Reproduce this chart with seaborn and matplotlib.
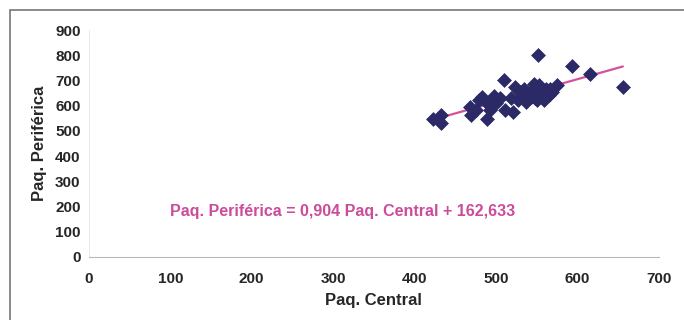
import matplotlib
matplotlib.use("Agg")
import matplotlib.pyplot as plt
import seaborn as sns
import pandas as pd
import numpy as np
from matplotlib.patches import Rectangle

# values
paq_central = [423, 432, 433, 468, 469, 476, 479, 483, 489, 489, 493, 495, 498, 500,
               505, 510, 511, 519, 521, 524, 527, 529, 532, 535, 537, 540, 543, 546,
               547, 548, 550, 552, 553, 554, 556, 559, 561, 565, 567, 569, 575, 594,
               615, 656]
paq_periferica = [547, 565, 532, 593, 565, 582, 622, 633, 549, 609, 582, 622, 639, 609,
                  629, 701, 582, 629, 576, 675, 622, 655, 635, 668, 615, 649, 633, 662,
                  688, 629, 622, 801, 682, 662, 649, 622, 668, 642, 668, 655, 682, 758,
                  725, 675]
slope = 0.904
intercept = 162.633
x_ticks = [0, 100, 200, 300, 400, 500, 600, 700]
y_ticks = [0, 100, 200, 300, 400, 500, 600, 700, 800, 900]

df = pd.DataFrame({"central": paq_central, "periferica": paq_periferica})

sns.set_style("white")
plt.rcParams["font.family"] = ["Liberation Sans", "DejaVu Sans"]

fig = plt.figure(figsize=(6.84, 3.2), dpi=100)
ax = fig.add_axes([0.130, 0.197, 0.833, 0.709])

# fitted line over the data range
xl = np.array([min(paq_central) + 10, max(paq_central)])
sns.lineplot(x=xl, y=slope * xl + intercept, ax=ax, color="#d6519b", linewidth=1.6)

sns.scatterplot(data=df, x="central", y="periferica", ax=ax, marker="D", s=50,
                color="#2b2a66", edgecolor="#2b2a66", linewidth=0.5, zorder=3)

ax.set_xlim(0, 700)
ax.set_ylim(0, 900)
ax.set_xticks(x_ticks)
ax.set_yticks(y_ticks)
ax.tick_params(axis="x", direction="inout", length=6, width=0.8, color="#b0b0b0",
               labelsize=11, pad=8)
ax.tick_params(axis="y", direction="out", length=4, width=0.8, color="#b0b0b0",
               labelsize=11, pad=2)
for lab in ax.get_xticklabels() + ax.get_yticklabels():
    lab.set_fontweight("bold")

for side in ["top", "right"]:
    ax.spines[side].set_visible(False)
ax.spines["bottom"].set_color("#b8b8b8")
ax.spines["left"].set_color("#e4e4e4")
ax.spines["bottom"].set_linewidth(0.8)
ax.spines["left"].set_linewidth(0.6)

ax.set_xlabel("Paq. Central", fontsize=12, fontweight="bold", labelpad=5)
ax.set_ylabel("Paq. Periférica", fontsize=12, fontweight="bold", labelpad=6)

ax.text(100, 182, "Paq. Periférica = 0,904 Paq. Central + 162,633", color="#cc4b9a",
        fontsize=11.5, fontweight="bold", va="center", ha="left")

# outer frame
fig.patches.append(Rectangle((0.015, -0.05), 1.2, 1.02, transform=fig.transFigure,
                             fill=False, edgecolor="#777777", linewidth=1.2))

fig.savefig("out.png", dpi=100)
